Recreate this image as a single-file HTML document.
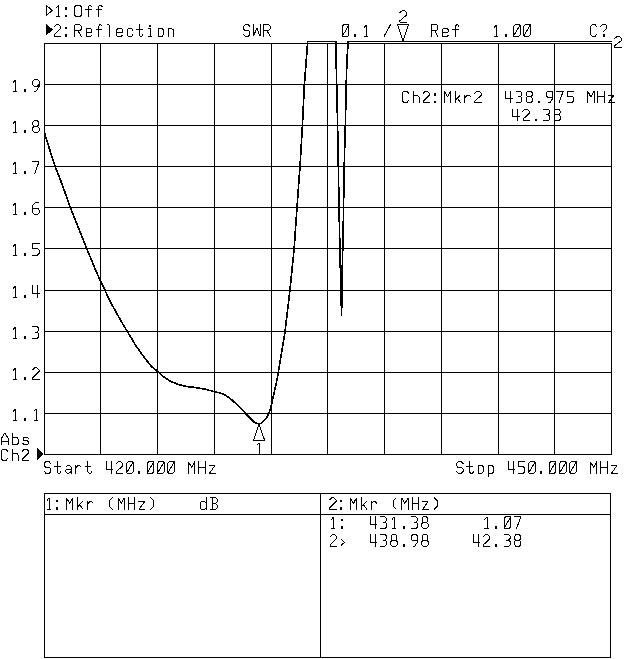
<!DOCTYPE html>
<html><head><meta charset="utf-8"><title>Network Analyzer - SWR</title>
<style>
html,body{margin:0;padding:0;background:#fff;}
body{width:640px;height:659px;overflow:hidden;font-family:"Liberation Mono",monospace;}
svg{display:block;}
.grid{fill:none;stroke:#000;stroke-width:1;shape-rendering:crispEdges;}
.trace{fill:none;stroke:#000;stroke-width:1.65;stroke-linejoin:round;shape-rendering:crispEdges;}
.mk{fill:none;stroke:#000;stroke-width:1;stroke-linejoin:miter;shape-rendering:crispEdges;}
.fill{fill:#000;stroke:none;shape-rendering:crispEdges;}
.txt path{fill:none;stroke:#000;stroke-width:1.0;stroke-linecap:square;stroke-linejoin:bevel;shape-rendering:crispEdges;}
.txt .dot rect{fill:#000;stroke:none;shape-rendering:crispEdges;}
</style></head>
<body>
<svg width="640" height="659" viewBox="0 0 640 659">
<rect x="0" y="0" width="640" height="659" fill="#fff"/>
<path class="grid" d="M44.5,43 V455 M100.5,43 V455 M157.5,43 V455 M214.5,43 V455 M271.5,43 V455 M327.5,43 V455 M384.5,43 V455 M441.5,43 V455 M498.5,43 V455 M554.5,43 V455 M611.5,43 V455 M44,43.5 H612 M44,84.5 H612 M44,125.5 H612 M44,166.5 H612 M44,207.5 H612 M44,248.5 H612 M44,290.5 H612 M44,331.5 H612 M44,372.5 H612 M44,413.5 H612 M44,454.5 H612"/>
<path class="grid" d="M44.5,493 V658 M610.5,493 V658 M320.5,493 V658 M44,493.5 H611 M44,514.5 H611 M44,657.5 H611"/>
<path class="trace" d="M44.5,133 L49.4,148.75 L55,166 L60,178.75 L65,192.5 L70.3,207.5 L76.25,222.5 L81.25,235 L86.5,248.1 L92.5,262.5 L95.6,270 L100.6,281.25 L105,290.25 L110,301.25 L116.25,312.5 L121.9,322.5 L127.25,331.5 L132.5,340 L135,344.4 L140.6,352.5 L146.25,360 L151.9,366.9 L157.75,371.5 L163.75,376.9 L170,381 L178.1,384.4 L185,386.25 L195,387.5 L200,388.4 L205,389.2 L210,390.5 L215,391.8 L220,392.9 L225,395 L231.25,399.4 L237.5,405 L243.75,411.25 L245.6,413.5 L250,418.1 L254.4,422.25 L256.5,423.4 L261,423.4 L262.8,421.9 L266.25,418.1 L269,413.1 L270.6,408.1 L272.5,400 L275,388.75 L277.4,378 L280,362.5 L285.1,331 L290,289.6 L294.15,248.6 L297,207.3 L300,166.4 L302.3,128 L304.4,84.2 L307.7,41.5 L335.7,41.5 L337.5,120 L339.3,220 L340.75,286.7 L341.6,315 L342.1,274.5 L342.9,242.7 L343.5,213 L343.9,180.6 L344.7,147 L345.5,120 L346.2,84 L346.9,62 L348.1,41.5 L611.5,41.5"/>
<path class="mk" d="M258.9,424.2 L253.6,440.1 L264.6,440.1 Z"/>
<path class="mk" d="M397.5,24.5 H408.5 L403,41 Z"/>
<path class="fill" d="M46,24 L46,35.4 L53,29.7 Z"/>
<path class="fill" d="M37.3,448 L37.3,459.8 L44,454 Z"/>
<path class="mk" d="M46.5,5.5 L46.5,15.3 L52.3,10.4 Z"/>
<g class="txt"><path d="M56.4,7.5 L58.5,5.2 L58.5,16.7 M56.4,16.7 L59.7,16.7"/>
<path d="M74.8,6.77 L76.3,5.2 L79.7,5.2 L81.2,6.77 L81.2,15.13 L79.7,16.7 L76.3,16.7 L74.8,15.13 L74.8,6.77 M91.7,6.45 L90.5,5.2 L89.5,5.2 L88.5,6.45 L88.5,16.7 M85.9,9.59 L91.1,9.59 M102,6.45 L100.8,5.2 L99.8,5.2 L98.8,6.45 L98.8,16.7 M96.2,9.59 L101.4,9.59"/><g class="dot"><rect x="64.7" y="7.4" width="2" height="2.2"/><rect x="64.7" y="14.71" width="2" height="2.3"/></g>
<path d="M54.2,26.84 L56.2,24.75 L58.6,24.75 L60.6,26.84 L60.6,28.72 L54.2,34.79 L54.2,36.25 L60.6,36.25 M74.8,36.25 L74.8,24.75 L79.8,24.75 L81.2,26.21 L81.2,29.14 L79.8,30.6 L74.8,30.6 M78,30.6 L81.2,36.25 M86,32.49 L91.3,32.49 L91.3,29.45 L90.6,28.72 L86.8,28.72 L86,29.56 L86,36.25 L90.5,36.25 L91.3,35.41 M102,26 L100.8,24.75 L99.8,24.75 L98.8,26 L98.8,36.25 M96.2,29.14 L101.4,29.14 M107.2,24.75 L109,24.75 L109,36.25 M116.9,32.49 L122.2,32.49 L122.2,29.45 L121.5,28.72 L117.7,28.72 L116.9,29.56 L116.9,36.25 L121.4,36.25 L122.2,35.41 M132.5,30.19 L131.7,28.72 L128.1,28.72 L127.2,29.66 L127.2,35.31 L128.1,36.25 L131.7,36.25 L132.5,35 M139,24.75 L139,35 L140.2,36.25 L142,36.25 L142.8,35.41 L142.8,34.58 M136.6,29.35 L142,29.35 M148.7,28.72 L150.4,28.72 L150.4,36.25 M148.7,36.25 L151.9,36.25 M158.1,28.72 L162.1,28.72 L163.4,30.08 L163.4,34.89 L162.1,36.25 L158.1,36.25 L158.1,28.72 M168.4,28.72 L168.4,36.25 M168.4,28.93 L172.3,28.93 L173.7,30.4 L173.7,36.25"/><g class="dot"><rect x="64.7" y="26.95" width="2" height="2.2"/><rect x="64.7" y="34.26" width="2" height="2.3"/><rect x="148.9" y="24.54" width="2" height="2"/></g>
<path d="M249.9,26.63 L248.4,24.75 L245,24.75 L243.5,26.32 L243.5,28.93 L245,30.5 L248.4,30.5 L249.9,32.07 L249.9,34.68 L248.4,36.25 L245,36.25 L243.5,34.37 M253.6,24.75 L253.6,36.25 L256.8,27.89 L260,36.25 L260,24.75 M263.7,36.25 L263.7,24.75 L268.7,24.75 L270.1,26.21 L270.1,29.14 L268.7,30.6 L263.7,30.6 M266.9,30.6 L270.1,36.25"/>
<path d="M342.5,26.21 L343.9,24.75 L348.9,24.75 L348.9,34.79 L347.5,36.25 L342.5,36.25 L342.5,26.21 M342.8,35.41 L348.6,25.59 M364.5,27.05 L366.6,24.75 L366.6,36.25 M364.5,36.25 L367.8,36.25 M384.1,36.25 L390.5,24.75"/><g class="dot"><rect x="354.2" y="34.26" width="2" height="2.3"/></g>
<path d="M399.8,12.84 L402,10.75 L404.64,10.75 L406.84,12.84 L406.84,14.72 L399.8,20.79 L399.8,22.25 L406.84,22.25"/>
<path d="M431.5,36.25 L431.5,24.75 L436.5,24.75 L437.9,26.21 L437.9,29.14 L436.5,30.6 L431.5,30.6 M434.7,30.6 L437.9,36.25 M442.7,32.49 L448,32.49 L448,29.45 L447.3,28.72 L443.5,28.72 L442.7,29.56 L442.7,36.25 L447.2,36.25 L448,35.41 M458.7,26 L457.5,24.75 L456.5,24.75 L455.5,26 L455.5,36.25 M452.9,29.14 L458.1,29.14"/>
<path d="M494.4,27.05 L496.5,24.75 L496.5,36.25 M494.4,36.25 L497.7,36.25 M513.6,26.21 L515,24.75 L520,24.75 L520,34.79 L518.6,36.25 L513.6,36.25 L513.6,26.21 M513.9,35.41 L519.7,25.59 M523.9,26.21 L525.3,24.75 L530.3,24.75 L530.3,34.79 L528.9,36.25 L523.9,36.25 L523.9,26.21 M524.2,35.41 L530,25.59"/><g class="dot"><rect x="504.7" y="34.26" width="2" height="2.3"/></g>
<path d="M596.8,26.84 L595.3,24.75 L592.3,24.75 L590.8,26.32 L590.8,34.68 L592.3,36.25 L595.3,36.25 L596.8,34.16 M600.7,26.84 L600.7,26.21 L602.1,24.75 L605.5,24.75 L606.9,26.21 L606.9,28.3 L603.9,31.23 L603.9,31.96"/><g class="dot"><rect x="602.7" y="34.05" width="2.4" height="2.6"/></g>
<path d="M614.5,38.58 L616.74,36.65 L619.43,36.65 L621.67,38.58 L621.67,40.31 L614.5,45.9 L614.5,47.25 L621.67,47.25"/>
<path d="M408.5,93.29 L407,91.2 L404,91.2 L402.5,92.77 L402.5,101.13 L404,102.7 L407,102.7 L408.5,100.61 M413.7,91.2 L413.7,102.7 M413.7,95.38 L417.6,95.38 L419,96.85 L419,102.7 M423.1,93.29 L425.1,91.2 L427.5,91.2 L429.5,93.29 L429.5,95.17 L423.1,101.24 L423.1,102.7 L429.5,102.7"/><g class="dot"><rect x="433.6" y="93.4" width="2" height="2.2"/><rect x="433.6" y="100.71" width="2" height="2.3"/></g>
<path d="M444.3,102.7 L444.3,91.2 L447.5,96.95 L450.7,91.2 L450.7,102.7 M455.4,91.2 L455.4,102.7 M460.1,95.17 L455.4,100.19 M457.3,98.1 L460.7,102.7 M464.9,95.17 L464.9,102.7 M464.9,97.47 L467.3,95.17 L469.3,95.17 L470.5,96.43 M474.9,93.29 L476.9,91.2 L479.3,91.2 L481.3,93.29 L481.3,95.17 L474.9,101.24 L474.9,102.7 L481.3,102.7"/>
<path d="M505.5,91.2 L505.5,98.73 L512.1,98.73 M510.5,91.2 L510.5,102.7 M516.07,91.2 L520.37,91.2 L521.67,92.56 L521.67,95.17 L520.37,96.53 L518.37,96.53 M520.37,96.53 L521.87,98.1 L521.87,101.13 L520.37,102.7 L516.07,102.7 M527.64,91.2 L530.84,91.2 L532.14,92.56 L532.14,95.38 L530.84,96.74 L527.44,96.74 L526.34,95.59 L526.34,92.56 L527.64,91.2 M527.44,96.74 L526.14,98.1 L526.14,101.24 L527.54,102.7 L531.04,102.7 L532.44,101.24 L532.44,98.2 L531.04,96.74 M552.98,96.01 L551.58,97.47 L547.98,97.47 L546.58,96.01 L546.58,92.66 L547.98,91.2 L551.58,91.2 L552.98,92.66 L552.98,98.1 L549.98,102.7 L548.58,102.7 M556.85,91.2 L563.25,91.2 L559.05,102.7 M573.52,91.2 L567.12,91.2 L567.12,96.01 L571.92,96.01 L573.52,97.68 L573.52,101.03 L571.92,102.7 L567.12,102.7 M587.66,102.7 L587.66,91.2 L590.86,96.95 L594.06,91.2 L594.06,102.7 M597.93,91.2 L597.93,102.7 M604.33,91.2 L604.33,102.7 M597.93,96.95 L604.33,96.95 M608.5,95.17 L614.1,95.17 L608.5,102.7 L614.1,102.7"/><g class="dot"><rect x="537.71" y="100.71" width="2" height="2.3"/></g>
<path d="M512.7,109.2 L512.7,116.73 L519.3,116.73 M517.7,109.2 L517.7,120.7 M523,111.29 L525,109.2 L527.4,109.2 L529.4,111.29 L529.4,113.17 L523,119.24 L523,120.7 L529.4,120.7 M543.9,109.2 L548.2,109.2 L549.5,110.56 L549.5,113.17 L548.2,114.53 L546.2,114.53 M548.2,114.53 L549.7,116.1 L549.7,119.13 L548.2,120.7 L543.9,120.7 M555.5,109.2 L558.7,109.2 L560,110.56 L560,113.38 L558.7,114.74 L555.3,114.74 L554.2,113.59 L554.2,110.56 L555.5,109.2 M555.3,114.74 L554,116.1 L554,119.24 L555.4,120.7 L558.9,120.7 L560.3,119.24 L560.3,116.2 L558.9,114.74"/><g class="dot"><rect x="534.7" y="118.71" width="2" height="2.3"/></g>
<path d="M13.4,82.05 L15.5,79.75 L15.5,91.25 M13.4,91.25 L16.7,91.25 M39,84.56 L37.6,86.02 L34,86.02 L32.6,84.56 L32.6,81.21 L34,79.75 L37.6,79.75 L39,81.21 L39,86.65 L36,91.25 L34.6,91.25"/><g class="dot"><rect x="23.7" y="89.26" width="2" height="2.3"/></g>
<path d="M13.4,123.05 L15.5,120.75 L15.5,132.25 M13.4,132.25 L16.7,132.25 M34.2,120.75 L37.4,120.75 L38.7,122.11 L38.7,124.93 L37.4,126.29 L34,126.29 L32.9,125.14 L32.9,122.11 L34.2,120.75 M34,126.29 L32.7,127.65 L32.7,130.79 L34.1,132.25 L37.6,132.25 L39,130.79 L39,127.75 L37.6,126.29"/><g class="dot"><rect x="23.7" y="130.26" width="2" height="2.3"/></g>
<path d="M13.4,164.05 L15.5,161.75 L15.5,173.25 M13.4,173.25 L16.7,173.25 M32.6,161.75 L39,161.75 L34.8,173.25"/><g class="dot"><rect x="23.7" y="171.26" width="2" height="2.3"/></g>
<path d="M13.4,205.05 L15.5,202.75 L15.5,214.25 M13.4,214.25 L16.7,214.25 M38.2,202.75 L35,202.75 L32.6,205.89 L32.6,212.79 L34,214.25 L37.6,214.25 L39,212.79 L39,209.65 L37.6,208.19 L32.6,208.19"/><g class="dot"><rect x="23.7" y="212.26" width="2" height="2.3"/></g>
<path d="M13.4,246.05 L15.5,243.75 L15.5,255.25 M13.4,255.25 L16.7,255.25 M39,243.75 L32.6,243.75 L32.6,248.56 L37.4,248.56 L39,250.23 L39,253.58 L37.4,255.25 L32.6,255.25"/><g class="dot"><rect x="23.7" y="253.26" width="2" height="2.3"/></g>
<path d="M13.4,288.05 L15.5,285.75 L15.5,297.25 M13.4,297.25 L16.7,297.25 M32.6,285.75 L32.6,293.28 L39.2,293.28 M37.6,285.75 L37.6,297.25"/><g class="dot"><rect x="23.7" y="295.26" width="2" height="2.3"/></g>
<path d="M13.4,329.05 L15.5,326.75 L15.5,338.25 M13.4,338.25 L16.7,338.25 M32.9,326.75 L37.2,326.75 L38.5,328.11 L38.5,330.72 L37.2,332.08 L35.2,332.08 M37.2,332.08 L38.7,333.65 L38.7,336.68 L37.2,338.25 L32.9,338.25"/><g class="dot"><rect x="23.7" y="336.26" width="2" height="2.3"/></g>
<path d="M13.4,370.05 L15.5,367.75 L15.5,379.25 M13.4,379.25 L16.7,379.25 M32.6,369.84 L34.6,367.75 L37,367.75 L39,369.84 L39,371.72 L32.6,377.79 L32.6,379.25 L39,379.25"/><g class="dot"><rect x="23.7" y="377.26" width="2" height="2.3"/></g>
<path d="M13.4,411.05 L15.5,408.75 L15.5,420.25 M13.4,420.25 L16.7,420.25 M34,411.05 L36.1,408.75 L36.1,420.25 M34,420.25 L37.3,420.25"/><g class="dot"><rect x="23.7" y="418.26" width="2" height="2.3"/></g>
<path d="M1.6,444.8 L1.6,438.11 L4.5,433.3 L5.1,433.3 L8,438.11 L8,444.8 M1.6,441.04 L8,441.04 M12.8,433.3 L12.8,444.8 M12.8,437.27 L16.7,437.27 L18.1,438.74 L18.1,443.34 L16.7,444.8 L12.8,444.8 M28.4,438.53 L27.2,437.27 L24.3,437.27 L23.1,438.53 L23.1,439.57 L24.3,440.83 L27.2,440.83 L28.4,442.08 L28.4,443.55 L27.2,444.8 L24.3,444.8 L23.1,443.55"/>
<path d="M7.6,451.19 L6.1,449.1 L3.1,449.1 L1.6,450.67 L1.6,459.03 L3.1,460.6 L6.1,460.6 L7.6,458.51 M12.8,449.1 L12.8,460.6 M12.8,453.28 L16.7,453.28 L18.1,454.75 L18.1,460.6 M22.2,451.19 L24.2,449.1 L26.6,449.1 L28.6,451.19 L28.6,453.07 L22.2,459.14 L22.2,460.6 L28.6,460.6"/>
<path d="M50.7,463.58 L49.2,461.7 L45.8,461.7 L44.3,463.27 L44.3,465.88 L45.8,467.45 L49.2,467.45 L50.7,469.02 L50.7,471.63 L49.2,473.2 L45.8,473.2 L44.3,471.32 M57,461.7 L57,471.95 L58.2,473.2 L60,473.2 L60.8,472.36 L60.8,471.53 M54.6,466.3 L60,466.3 M66.2,466.72 L67.4,465.67 L69.9,465.67 L71.1,466.93 L71.1,473.2 M71.1,469.02 L67,469.02 L65.8,470.17 L65.8,472.05 L67,473.2 L69.1,473.2 L71.1,471.53 M75.4,465.67 L75.4,473.2 M75.4,467.97 L77.8,465.67 L79.8,465.67 L81,466.93 M87.9,461.7 L87.9,471.95 L89.1,473.2 L90.9,473.2 L91.7,472.36 L91.7,471.53 M85.5,466.3 L90.9,466.3 M106.1,461.7 L106.1,469.23 L112.7,469.23 M111.1,461.7 L111.1,473.2 M116.4,463.79 L118.4,461.7 L120.8,461.7 L122.8,463.79 L122.8,465.67 L116.4,471.74 L116.4,473.2 L122.8,473.2 M126.7,463.16 L128.1,461.7 L133.1,461.7 L133.1,471.74 L131.7,473.2 L126.7,473.2 L126.7,463.16 M127,472.36 L132.8,462.54 M147.3,463.16 L148.7,461.7 L153.7,461.7 L153.7,471.74 L152.3,473.2 L147.3,473.2 L147.3,463.16 M147.6,472.36 L153.4,462.54 M157.6,463.16 L159,461.7 L164,461.7 L164,471.74 L162.6,473.2 L157.6,473.2 L157.6,463.16 M157.9,472.36 L163.7,462.54 M167.9,463.16 L169.3,461.7 L174.3,461.7 L174.3,471.74 L172.9,473.2 L167.9,473.2 L167.9,463.16 M168.2,472.36 L174,462.54 M188.5,473.2 L188.5,461.7 L191.7,467.45 L194.9,461.7 L194.9,473.2 M198.8,461.7 L198.8,473.2 M205.2,461.7 L205.2,473.2 M198.8,467.45 L205.2,467.45 M209.4,465.67 L215,465.67 L209.4,473.2 L215,473.2"/><g class="dot"><rect x="138.4" y="471.21" width="2" height="2.3"/></g>
<path d="M463,463.58 L461.5,461.7 L458.1,461.7 L456.6,463.27 L456.6,465.88 L458.1,467.45 L461.5,467.45 L463,469.02 L463,471.63 L461.5,473.2 L458.1,473.2 L456.6,471.32 M469.3,461.7 L469.3,471.95 L470.5,473.2 L472.3,473.2 L473.1,472.36 L473.1,471.53 M466.9,466.3 L472.3,466.3 M478.1,465.67 L482.1,465.67 L483.4,467.03 L483.4,471.84 L482.1,473.2 L478.1,473.2 L478.1,465.67 M488.4,465.67 L488.4,476.75 M488.4,465.67 L492.3,465.67 L493.7,467.14 L493.7,471.74 L492.3,473.2 L488.4,473.2 M508.1,461.7 L508.1,469.23 L514.7,469.23 M513.1,461.7 L513.1,473.2 M524.8,461.7 L518.4,461.7 L518.4,466.51 L523.2,466.51 L524.8,468.18 L524.8,471.53 L523.2,473.2 L518.4,473.2 M528.7,463.16 L530.1,461.7 L535.1,461.7 L535.1,471.74 L533.7,473.2 L528.7,473.2 L528.7,463.16 M529,472.36 L534.8,462.54 M549.3,463.16 L550.7,461.7 L555.7,461.7 L555.7,471.74 L554.3,473.2 L549.3,473.2 L549.3,463.16 M549.6,472.36 L555.4,462.54 M559.6,463.16 L561,461.7 L566,461.7 L566,471.74 L564.6,473.2 L559.6,473.2 L559.6,463.16 M559.9,472.36 L565.7,462.54 M569.9,463.16 L571.3,461.7 L576.3,461.7 L576.3,471.74 L574.9,473.2 L569.9,473.2 L569.9,463.16 M570.2,472.36 L576,462.54 M590.5,473.2 L590.5,461.7 L593.7,467.45 L596.9,461.7 L596.9,473.2 M600.8,461.7 L600.8,473.2 M607.2,461.7 L607.2,473.2 M600.8,467.45 L607.2,467.45 M611.4,465.67 L617,465.67 L611.4,473.2 L617,473.2"/><g class="dot"><rect x="540.4" y="471.21" width="2" height="2.3"/></g>
<path d="M257.1,445.05 L259.2,442.75 L259.2,454.25 M257.1,454.25 L260.4,454.25"/>
<path d="M47.3,500.05 L49.4,497.75 L49.4,509.25 M47.3,509.25 L50.6,509.25 M66.5,509.25 L66.5,497.75 L69.7,503.5 L72.9,497.75 L72.9,509.25 M77.7,497.75 L77.7,509.25 M82.4,501.72 L77.7,506.74 M79.6,504.65 L83,509.25 M87.3,501.72 L87.3,509.25 M87.3,504.02 L89.7,501.72 L91.7,501.72 L92.9,502.98 M112.3,497.75 L109.5,500.68 L109.5,506.32 L112.3,509.25 M118,509.25 L118,497.75 L121.2,503.5 L124.4,497.75 L124.4,509.25 M128.3,497.75 L128.3,509.25 M134.7,497.75 L134.7,509.25 M128.3,503.5 L134.7,503.5 M138.9,501.72 L144.5,501.72 L138.9,509.25 L144.5,509.25 M150.7,497.75 L153.5,500.68 L153.5,506.32 L150.7,509.25 M206.2,497.75 L206.2,509.25 M206.2,502.98 L205,501.72 L201.3,501.72 L200.6,502.45 L200.6,508.52 L201.3,509.25 L205,509.25 L206.2,508 M210.7,497.75 L215.7,497.75 L217.1,499.21 L217.1,502.04 L215.7,503.5 L217.1,504.96 L217.1,507.79 L215.7,509.25 L210.7,509.25 M212.3,497.75 L212.3,509.25 M212.3,503.5 L215.7,503.5"/><g class="dot"><rect x="56.4" y="499.95" width="2" height="2.2"/><rect x="56.4" y="507.26" width="2" height="2.3"/></g>
<path d="M329.6,499.84 L331.6,497.75 L334,497.75 L336,499.84 L336,501.72 L329.6,507.79 L329.6,509.25 L336,509.25 M350.2,509.25 L350.2,497.75 L353.4,503.5 L356.6,497.75 L356.6,509.25 M361.4,497.75 L361.4,509.25 M366.1,501.72 L361.4,506.74 M363.3,504.65 L366.7,509.25 M371,501.72 L371,509.25 M371,504.02 L373.4,501.72 L375.4,501.72 L376.6,502.98 M396,497.75 L393.2,500.68 L393.2,506.32 L396,509.25 M401.7,509.25 L401.7,497.75 L404.9,503.5 L408.1,497.75 L408.1,509.25 M412,497.75 L412,509.25 M418.4,497.75 L418.4,509.25 M412,503.5 L418.4,503.5 M422.6,501.72 L428.2,501.72 L422.6,509.25 L428.2,509.25 M434.4,497.75 L437.2,500.68 L437.2,506.32 L434.4,509.25"/><g class="dot"><rect x="340.1" y="499.95" width="2" height="2.2"/><rect x="340.1" y="507.26" width="2" height="2.3"/></g>
<path d="M331.6,519.2 L333.7,516.9 L333.7,528.4 M331.6,528.4 L334.9,528.4"/><g class="dot"><rect x="340.7" y="519.1" width="2" height="2.2"/><rect x="340.7" y="526.41" width="2" height="2.3"/></g>
<path d="M370.2,516.9 L370.2,524.43 L376.8,524.43 M375.2,516.9 L375.2,528.4 M380.8,516.9 L385.1,516.9 L386.4,518.26 L386.4,520.87 L385.1,522.23 L383.1,522.23 M385.1,522.23 L386.6,523.8 L386.6,526.83 L385.1,528.4 L380.8,528.4 M392.2,519.2 L394.3,516.9 L394.3,528.4 M392.2,528.4 L395.5,528.4 M411.7,516.9 L416,516.9 L417.3,518.26 L417.3,520.87 L416,522.23 L414,522.23 M416,522.23 L417.5,523.8 L417.5,526.83 L416,528.4 L411.7,528.4 M423.3,516.9 L426.5,516.9 L427.8,518.26 L427.8,521.08 L426.5,522.44 L423.1,522.44 L422,521.29 L422,518.26 L423.3,516.9 M423.1,522.44 L421.8,523.8 L421.8,526.94 L423.2,528.4 L426.7,528.4 L428.1,526.94 L428.1,523.9 L426.7,522.44"/><g class="dot"><rect x="402.5" y="526.41" width="2" height="2.3"/></g>
<path d="M484.9,519.2 L487,516.9 L487,528.4 M484.9,528.4 L488.2,528.4 M504.1,518.36 L505.5,516.9 L510.5,516.9 L510.5,526.94 L509.1,528.4 L504.1,528.4 L504.1,518.36 M504.4,527.56 L510.2,517.74 M514.4,516.9 L520.8,516.9 L516.6,528.4"/><g class="dot"><rect x="495.2" y="526.41" width="2" height="2.3"/></g>
<path d="M330.2,536.79 L332.2,534.7 L334.6,534.7 L336.6,536.79 L336.6,538.67 L330.2,544.74 L330.2,546.2 L336.6,546.2 M341.2,539.3 L344.5,542.33 L341.2,545.36"/>
<path d="M370.2,534.7 L370.2,542.23 L376.8,542.23 M375.2,534.7 L375.2,546.2 M380.8,534.7 L385.1,534.7 L386.4,536.06 L386.4,538.67 L385.1,540.03 L383.1,540.03 M385.1,540.03 L386.6,541.6 L386.6,544.63 L385.1,546.2 L380.8,546.2 M392.4,534.7 L395.6,534.7 L396.9,536.06 L396.9,538.88 L395.6,540.24 L392.2,540.24 L391.1,539.09 L391.1,536.06 L392.4,534.7 M392.2,540.24 L390.9,541.6 L390.9,544.74 L392.3,546.2 L395.8,546.2 L397.2,544.74 L397.2,541.7 L395.8,540.24 M417.8,539.51 L416.4,540.97 L412.8,540.97 L411.4,539.51 L411.4,536.16 L412.8,534.7 L416.4,534.7 L417.8,536.16 L417.8,541.6 L414.8,546.2 L413.4,546.2 M423.3,534.7 L426.5,534.7 L427.8,536.06 L427.8,538.88 L426.5,540.24 L423.1,540.24 L422,539.09 L422,536.06 L423.3,534.7 M423.1,540.24 L421.8,541.6 L421.8,544.74 L423.2,546.2 L426.7,546.2 L428.1,544.74 L428.1,541.7 L426.7,540.24"/><g class="dot"><rect x="402.5" y="544.21" width="2" height="2.3"/></g>
<path d="M473.2,534.7 L473.2,542.23 L479.8,542.23 M478.2,534.7 L478.2,546.2 M483.5,536.79 L485.5,534.7 L487.9,534.7 L489.9,536.79 L489.9,538.67 L483.5,544.74 L483.5,546.2 L489.9,546.2 M504.4,534.7 L508.7,534.7 L510,536.06 L510,538.67 L508.7,540.03 L506.7,540.03 M508.7,540.03 L510.2,541.6 L510.2,544.63 L508.7,546.2 L504.4,546.2 M516,534.7 L519.2,534.7 L520.5,536.06 L520.5,538.88 L519.2,540.24 L515.8,540.24 L514.7,539.09 L514.7,536.06 L516,534.7 M515.8,540.24 L514.5,541.6 L514.5,544.74 L515.9,546.2 L519.4,546.2 L520.8,544.74 L520.8,541.7 L519.4,540.24"/><g class="dot"><rect x="495.2" y="544.21" width="2" height="2.3"/></g></g>
</svg>
</body></html>
